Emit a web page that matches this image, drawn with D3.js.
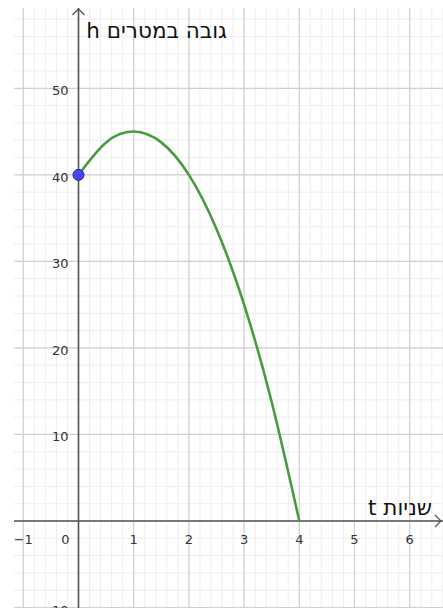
<html>
  <head>
    <script src='https://d3js.org/d3.v7.min.js'></script>
    <style>
      body { margin: 0; background: #fff; }
      text { font-family: 'DejaVu Sans', sans-serif; }
    </style>
  </head>
  <body>
    <svg width=443 height=611></svg>
    <script>
      // height of the ball over time
      const T_VALUES = [0, 0.5, 1, 1.5, 2, 2.5, 3, 3.5, 4];
      const H_VALUES = [40, 43.75, 45, 43.75, 40, 33.75, 25, 13.75, 0];
      const START_POINT = [0, 40];

      const X_TICKS = [-1, 0, 1, 2, 3, 4, 5, 6];
      const Y_TICKS = [-10, 10, 20, 30, 40, 50];
      const X_TITLE = 'שניות t';
      const Y_TITLE = 'גובה במטרים h';

      const svg = d3.select('svg');

      // graphics view
      const view = { left: 14, top: 8, right: 443, bottom: 608 };

      const x = d3.scaleLinear().domain([-1, 6]).range([23.3, 409.7]);
      const y = d3.scaleLinear().domain([0, 50]).range([521, 88.3]);

      svg.append('clipPath').attr('id', 'clip')
        .append('rect')
        .attr('x', view.left).attr('y', view.top)
        .attr('width', view.right - view.left).attr('height', view.bottom - view.top);

      const g = svg.append('g').attr('clip-path', 'url(#clip)');

      const xMin = x.invert(view.left), xMax = x.invert(view.right);
      const yMin = y.invert(view.bottom), yMax = y.invert(view.top);

      // minor grid
      const minorX = d3.range(Math.ceil(xMin * 5), Math.floor(xMax * 5) + 1).map(d => d / 5);
      const minorY = d3.range(Math.ceil(yMin / 2), Math.floor(yMax / 2) + 1).map(d => d * 2);
      g.selectAll('.minx').data(minorX).enter().append('line')
        .attr('x1', d => x(d)).attr('x2', d => x(d))
        .attr('y1', view.top).attr('y2', view.bottom)
        .attr('stroke', '#eeeeee').attr('stroke-width', 1);
      g.selectAll('.miny').data(minorY).enter().append('line')
        .attr('y1', d => y(d)).attr('y2', d => y(d))
        .attr('x1', view.left).attr('x2', view.right)
        .attr('stroke', '#eeeeee').attr('stroke-width', 1);

      // major grid
      const majorX = d3.range(Math.ceil(xMin), Math.floor(xMax) + 1);
      const majorY = d3.range(Math.ceil(yMin / 10), Math.floor(yMax / 10) + 1).map(d => d * 10);
      g.selectAll('.majx').data(majorX).enter().append('line')
        .attr('x1', d => x(d)).attr('x2', d => x(d))
        .attr('y1', view.top).attr('y2', view.bottom)
        .attr('stroke', '#d0d0d0').attr('stroke-width', 1.2);
      g.selectAll('.majy').data(majorY).enter().append('line')
        .attr('y1', d => y(d)).attr('y2', d => y(d))
        .attr('x1', view.left).attr('x2', view.right)
        .attr('stroke', '#d0d0d0').attr('stroke-width', 1.2);

      // axes
      g.append('line')
        .attr('x1', view.left).attr('x2', view.right)
        .attr('y1', y(0)).attr('y2', y(0))
        .attr('stroke', '#555').attr('stroke-width', 1.6);
      g.append('line')
        .attr('x1', x(0)).attr('x2', x(0))
        .attr('y1', view.top).attr('y2', view.bottom)
        .attr('stroke', '#555').attr('stroke-width', 1.6);

      // arrow heads
      g.append('path')
        .attr('d', `M${x(0) - 6},${view.top + 7} L${x(0)},${view.top + 1} L${x(0) + 6},${view.top + 7}`)
        .attr('fill', 'none').attr('stroke', '#555').attr('stroke-width', 1.3);
      g.append('path')
        .attr('d', `M${view.right - 8},${y(0) - 6} L${view.right - 2},${y(0)} L${view.right - 8},${y(0) + 6}`)
        .attr('fill', 'none').attr('stroke', '#555').attr('stroke-width', 1.3);

      // tick labels
      g.selectAll('.xlab').data(X_TICKS).enter().append('text')
        .attr('x', d => d == 0 ? x(0) - 13 : x(d))
        .attr('y', y(0) + 23)
        .attr('text-anchor', 'middle')
        .attr('font-size', 13)
        .attr('fill', '#333')
        .text(d => d < 0 ? '\u2212' + Math.abs(d) : d);

      g.selectAll('.ylab').data(Y_TICKS).enter().append('text')
        .attr('x', x(0) - 10)
        .attr('y', d => y(d) + 7)
        .attr('text-anchor', 'end')
        .attr('font-size', 13)
        .attr('fill', '#333')
        .text(d => d < 0 ? '\u2212' + Math.abs(d) : d);

      // axis titles
      g.append('text')
        .attr('x', 227).attr('y', 38)
        .attr('direction', 'rtl')
        .attr('text-anchor', 'start')
        .attr('font-size', 21.5)
        .attr('fill', '#111')
        .text(Y_TITLE);
      g.append('text')
        .attr('x', 432).attr('y', 515)
        .attr('direction', 'rtl')
        .attr('text-anchor', 'start')
        .attr('font-size', 21.5)
        .attr('fill', '#111')
        .text(X_TITLE);

      // curve
      const pts = T_VALUES.map((t, i) => [t, H_VALUES[i]]);
      const line = d3.line()
        .x(d => x(d[0])).y(d => y(d[1]))
        .curve(d3.curveNatural);
      g.append('path')
        .attr('d', line(pts))
        .attr('fill', 'none')
        .attr('stroke', '#4a9a40')
        .attr('stroke-width', 2.6);

      // starting point
      g.append('circle')
        .attr('cx', x(START_POINT[0])).attr('cy', y(START_POINT[1]))
        .attr('r', 5.5)
        .attr('fill', '#4646ff')
        .attr('stroke', '#22227a')
        .attr('stroke-width', 1);
    </script>
  </body>
</html>
